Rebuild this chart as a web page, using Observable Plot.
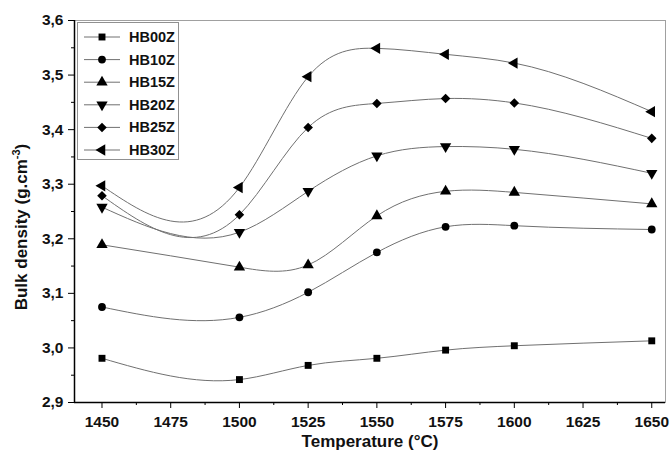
<!DOCTYPE html>
<html><head><meta charset="utf-8">
<script src="https://cdn.jsdelivr.net/npm/d3@7"></script>
<script src="https://cdn.jsdelivr.net/npm/@observablehq/plot@0.6"></script>
<style>
body{margin:0;background:#fff;}
#chart{position:relative;width:671px;height:451px;}
svg text{font-family:"Liberation Sans",Arial,sans-serif;}
</style>
</head><body><div id="chart"></div>
<script>
const temperatures = [1450, 1500, 1525, 1550, 1575, 1600, 1650];
const HB00Z = [2.981, 2.942, 2.968, 2.981, 2.996, 3.004, 3.013];
const HB10Z = [3.075, 3.056, 3.102, 3.175, 3.222, 3.224, 3.217];
const HB15Z = [3.189, 3.148, 3.152, 3.242, 3.287, 3.285, 3.264];
const HB20Z = [3.258, 3.212, 3.287, 3.352, 3.369, 3.364, 3.320];
const HB25Z = [3.279, 3.244, 3.404, 3.448, 3.457, 3.449, 3.384];
const HB30Z = [3.297, 3.294, 3.497, 3.549, 3.538, 3.522, 3.433];
const seriesNames = ["HB00Z", "HB10Z", "HB15Z", "HB20Z", "HB25Z", "HB30Z"];
const seriesValues = [HB00Z, HB10Z, HB15Z, HB20Z, HB25Z, HB30Z];
const xTicks = [1450, 1475, 1500, 1525, 1550, 1575, 1600, 1625, 1650];
const xMinorTicks = [1462.5, 1487.5, 1512.5, 1537.5, 1562.5, 1587.5, 1612.5, 1637.5];
const yTicks = [2.9, 3.0, 3.1, 3.2, 3.3, 3.4, 3.5, 3.6];
const yMinorTicks = [2.95, 3.05, 3.15, 3.25, 3.35, 3.45, 3.55];

// Natural cubic spline y(x) curve factory (rendering only)
function splineCurve(context) {
  let pts = [];
  return {
    areaStart() {}, areaEnd() {},
    lineStart() { pts = []; },
    point(x, y) { pts.push([+x, +y]); },
    lineEnd() {
      const n = pts.length;
      if (n === 0) return;
      context.moveTo(pts[0][0], pts[0][1]);
      if (n < 3) { for (let i = 1; i < n; i++) context.lineTo(pts[i][0], pts[i][1]); return; }
      const h = [], M = new Array(n).fill(0);
      for (let i = 0; i < n - 1; i++) h.push(pts[i + 1][0] - pts[i][0]);
      const m = n - 2, a = [], b = [], c = [], r = [];
      for (let k = 0; k < m; k++) {
        const i = k + 1;
        a.push(h[i - 1]); b.push(2 * (h[i - 1] + h[i])); c.push(h[i]);
        r.push(6 * ((pts[i + 1][1] - pts[i][1]) / h[i] - (pts[i][1] - pts[i - 1][1]) / h[i - 1]));
      }
      for (let k = 1; k < m; k++) {
        const w = a[k] / b[k - 1];
        b[k] -= w * c[k - 1]; r[k] -= w * r[k - 1];
      }
      const sol = new Array(m);
      sol[m - 1] = r[m - 1] / b[m - 1];
      for (let k = m - 2; k >= 0; k--) sol[k] = (r[k] - c[k] * sol[k + 1]) / b[k];
      for (let k = 0; k < m; k++) M[k + 1] = sol[k];
      for (let i = 0; i < n - 1; i++) {
        const [x0, y0] = pts[i], [x1, y1] = pts[i + 1], hh = h[i];
        const s = (y1 - y0) / hh;
        const d0 = s - hh * (2 * M[i] + M[i + 1]) / 6;
        const d1 = s + hh * (M[i] + 2 * M[i + 1]) / 6;
        context.bezierCurveTo(x0 + hh / 3, y0 + d0 * hh / 3, x1 - hh / 3, y1 - d1 * hh / 3, x1, y1);
      }
    }
  };
}

function triangle(angle) {
  return {
    draw(ctx, size) {
      const y = -Math.sqrt(size / (3 * Math.sqrt(3)));
      const pts = [[0, 2 * y], [-Math.sqrt(3) * y, -y], [Math.sqrt(3) * y, -y]];
      const c = Math.cos(angle), s = Math.sin(angle);
      pts.forEach(([px, py], i) => {
        const rx = px * c - py * s, ry = px * s + py * c;
        if (i === 0) ctx.moveTo(rx, ry); else ctx.lineTo(rx, ry);
      });
      ctx.closePath();
    }
  };
}
const symbols = [d3.symbolSquare, d3.symbolCircle, triangle(0), triangle(Math.PI), d3.symbolDiamond2, triangle(-Math.PI / 2)];
const radii = [3.9, 3.9, 4.2, 4.2, 4.3, 4.2];

const data = seriesNames.flatMap((name, i) =>
  temperatures.map((t, j) => ({series: name, t, v: seriesValues[i][j]})));

const fmt = d => d.toFixed(1).replace(".", ",");
const fontStyle = {fontWeight: "bold", fontSize: 15.5};

const marks = [
  Plot.frame({stroke: "#a0a0a0", strokeWidth: 1}),
  ...seriesNames.map((name) =>
    Plot.line(data.filter(d => d.series === name), {x: "t", y: "v", curve: splineCurve, stroke: "#707070", strokeWidth: 1})),
  ...seriesNames.map((name, i) =>
    Plot.dot(data.filter(d => d.series === name), {x: "t", y: "v", symbol: symbols[i], r: radii[i], fill: "#000", stroke: "none"})),
  Plot.ruleX([1440], {stroke: "#000", strokeWidth: 1.5}),
  Plot.ruleY([2.9], {stroke: "#000", strokeWidth: 1.5}),
  Plot.axisX({ticks: xTicks, tickSize: 6, tickPadding: 7, tickFormat: d => String(d), ...fontStyle, fill: "#111"}),
  Plot.axisX({ticks: xMinorTicks, tickSize: 3, tickFormat: () => ""}),
  Plot.axisY({ticks: yTicks, tickSize: 6, tickPadding: 5, tickFormat: fmt, ...fontStyle, fill: "#111"}),
  Plot.axisY({ticks: yMinorTicks, tickSize: 3, tickFormat: () => ""})
];

const chart = Plot.plot({
  width: 671, height: 451,
  marginLeft: 74, marginRight: 6, marginTop: 20, marginBottom: 49,
  x: {domain: [1440, 1655], label: null},
  y: {domain: [2.9, 3.6], label: null},
  style: {fontFamily: "'Liberation Sans', Arial, sans-serif", background: "#fff", overflow: "visible"},
  marks
});
document.getElementById("chart").appendChild(chart);

const svg = d3.select(chart);
svg.append("text").attr("x", 370).attr("y", 447).attr("text-anchor", "middle")
  .attr("font-weight", "bold").attr("font-size", 17).attr("fill", "#111").text("Temperature (°C)");
const yt = svg.append("text").attr("transform", "translate(27,227) rotate(-90)").attr("text-anchor", "middle")
  .attr("font-weight", "bold").attr("font-size", 17).attr("fill", "#111");
yt.append("tspan").text("Bulk density (g.cm");
yt.append("tspan").attr("font-size", 11).attr("dy", -7).text("-3");
yt.append("tspan").attr("dy", 7).text(")");

const lg = svg.append("g").attr("text-anchor", "start");
lg.append("rect").attr("x", 77.5).attr("y", 22.5).attr("width", 101).attr("height", 137)
  .attr("fill", "#fff").attr("stroke", "#909090").attr("stroke-width", 1);
seriesNames.forEach((name, i) => {
  const y = 37 + i * 22.6;
  lg.append("line").attr("x1", 84).attr("x2", 120).attr("y1", y).attr("y2", y)
    .attr("stroke", "#707070").attr("stroke-width", 1);
  lg.append("path").attr("transform", `translate(102,${y})`)
    .attr("d", d3.symbol(symbols[i], Math.PI * radii[i] * radii[i])()).attr("fill", "#000");
  lg.append("text").attr("x", 129).attr("y", y + 5).attr("text-anchor", "start").attr("font-weight", "bold").attr("font-size", 14.5)
    .attr("fill", "#111").text(name);
});
</script></body></html>
